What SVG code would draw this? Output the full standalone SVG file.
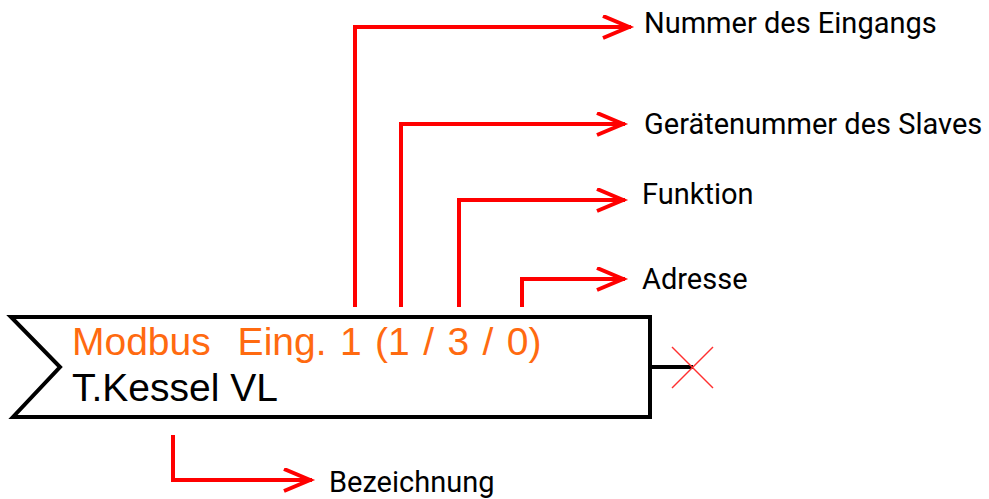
<svg xmlns="http://www.w3.org/2000/svg" width="989" height="499" viewBox="0 0 989 499">
<style>
.lead{fill:none;stroke:#ff0000;stroke-width:4;stroke-linejoin:miter}
.lbl{font-family:Roboto,"Liberation Sans",sans-serif;font-size:29px;fill:#000}
.box{fill:#fff;stroke:#000;stroke-width:4;stroke-linejoin:miter}
.inner{font-family:"Liberation Sans",Arial,sans-serif;font-size:39px}
</style>
<defs>
<marker id="arr" markerUnits="userSpaceOnUse" markerWidth="40" markerHeight="30" refX="30" refY="12" orient="auto" viewBox="0 0 40 30">
<polyline points="2,1 28,12 2,23" fill="none" stroke="#ff0000" stroke-width="4"/>
</marker>
</defs>
<g id="node-block">
<polygon class="box" points="11,317 650,317 650,417 13,417 60,367"/>
<text class="inner" x="72" y="355" xml:space="preserve" fill="#ff6a10" word-spacing="2.6">Modbus  Eing. 1 (1 / 3 / 0)</text>
<text class="inner" x="72" y="401" fill="#000">T.Kessel VL</text>
<line x1="650" y1="367" x2="693" y2="367" stroke="#000" stroke-width="4"/>
<line x1="672" y1="347" x2="713" y2="388" stroke="#ff3030" stroke-width="1.5"/>
<line x1="713" y1="347" x2="672" y2="388" stroke="#ff3030" stroke-width="1.5"/>
</g>
<g id="connectors">
<polyline class="lead" points="355,307 355,27 631,27" marker-end="url(#arr)"/>
<polyline class="lead" points="401,307 401,124 625,124" marker-end="url(#arr)"/>
<polyline class="lead" points="459,307 459,200 625,200" marker-end="url(#arr)"/>
<polyline class="lead" points="522,307 522,279 625,279" marker-end="url(#arr)"/>
<polyline class="lead" points="173,435 173,480 312,480" marker-end="url(#arr)"/>
</g>
<g id="label-nummer"><text class="lbl" x="644" y="33">Nummer des Eingangs</text></g>
<g id="label-geraet"><text class="lbl" x="644" y="134">Gerätenummer des Slaves</text></g>
<g id="label-funktion"><text class="lbl" x="642" y="204">Funktion</text></g>
<g id="label-adresse"><text class="lbl" x="642" y="289">Adresse</text></g>
<g id="label-bezeichnung"><text class="lbl" x="329" y="492">Bezeichnung</text></g>
</svg>
